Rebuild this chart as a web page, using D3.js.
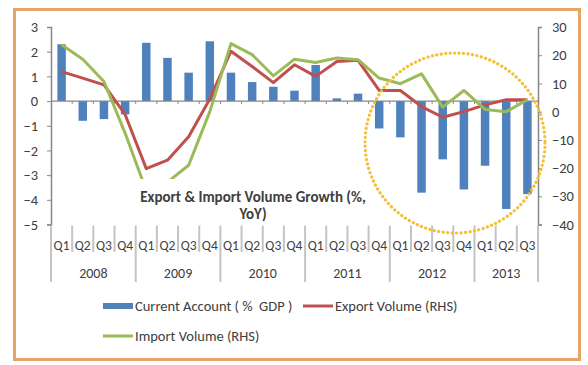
<!DOCTYPE html>
<html>
<head>
<meta charset="utf-8">
<script src="https://cdn.jsdelivr.net/npm/d3@7"></script>
<style>
  html, body { margin: 0; padding: 0; background: #fff; }
  svg { display: block; }
  text { font-family: Carlito, Lato, "Liberation Sans", sans-serif; fill: #404040; white-space: pre; }
</style>
</head>
<body>
<svg id="chart" width="588" height="365"></svg>
<script>
// ---- data ----
const years = ["2008", "2009", "2010", "2011", "2012", "2013"];
const quarters = ["Q1","Q2","Q3","Q4","Q1","Q2","Q3","Q4","Q1","Q2","Q3","Q4","Q1","Q2","Q3","Q4","Q1","Q2","Q3","Q4","Q1","Q2","Q3"];
const categoryYears = ["2008","2008","2008","2008","2009","2009","2009","2009","2010","2010","2010","2010","2011","2011","2011","2011","2012","2012","2012","2012","2013","2013","2013"];
const currentAccount = [2.30, -0.80, -0.73, -0.54, 2.36, 1.75, 1.15, 2.42, 1.15, 0.77, 0.58, 0.42, 1.46, 0.11, 0.30, -1.11, -1.47, -3.71, -2.36, -3.58, -2.62, -4.37, -3.77];
const exportVolume = [14.2, 11.9, 9.5, -1.0, -20.2, -17.2, -8.9, 4.5, 21.4, 16.0, 10.3, 16.6, 12.5, 17.8, 18.2, 7.5, 7.5, 1.8, -2.0, 0.0, 2.4, 4.2, 4.2];
const importVolume = [23.7, 18.6, 10.7, -7.6, -28.0, -25.0, -19.0, 0.0, 24.1, 20.2, 12.7, 18.6, 17.4, 19.0, 18.4, 11.9, 9.9, 13.4, 1.6, 7.5, 0.8, 0.0, 4.2];
const leftTicks = [-5, -4, -3, -2, -1, 0, 1, 2, 3];
const rightTicks = [-40, -30, -20, -10, 0, 10, 20, 30];
const seriesNames = ["Current Account ( %  GDP )", "Export Volume (RHS)", "Import Volume (RHS)"];
const titleLines = ["Export & Import Volume Growth (%,", "YoY)"];

// ---- layout ----
const svg = d3.select("#chart");
const plot = { left: 51, right: 538, top: 27, bottom: 224.5 };
const colors = { bar: "#4f81bd", exp: "#c0504d", imp: "#9bbb59", axis: "#868686", sep: "#c4c4c4" };

const keys = quarters.map((q, i) => categoryYears[i] + "-" + q);
const x = d3.scaleBand().domain(keys).range([plot.left, plot.right]).paddingInner(0.6).paddingOuter(0.3);
const step = x.step();
const cx = k => x(k) + x.bandwidth() / 2;
const yL = d3.scaleLinear().domain([-5, 3]).range([plot.bottom, plot.top]);
const yR = d3.scaleLinear().domain([-40, 30]).range([plot.bottom, plot.top]);

// frame
svg.append("rect").attr("x", 14.5).attr("y", 9.5).attr("width", 565).attr("height", 350)
  .attr("fill", "#fff").attr("stroke", "#e6a468").attr("stroke-width", 3);

// left axis
const gL = svg.append("g").attr("transform", `translate(${plot.left},0)`)
  .call(d3.axisLeft(yL).tickValues(leftTicks).tickSize(4).tickPadding(9).tickFormat(d3.format("d")));
gL.select(".domain").attr("stroke", colors.axis).attr("stroke-width", 1.5);
gL.selectAll(".tick line").attr("stroke", colors.axis);
gL.selectAll(".tick text").style("font-size", "14.5px").attr("fill", "#404040");

// right axis
const gR = svg.append("g").attr("transform", `translate(${plot.right},0)`)
  .call(d3.axisRight(yR).tickValues(rightTicks).tickSize(4).tickPadding(10).tickFormat(d3.format("d")));
gR.select(".domain").attr("stroke", colors.axis).attr("stroke-width", 1.5);
gR.selectAll(".tick line").attr("stroke", colors.axis);
gR.selectAll(".tick text").style("font-size", "14.5px").attr("fill", "#404040");

// bars
svg.append("g").selectAll("rect").data(currentAccount).join("rect")
  .attr("x", (d, i) => x(keys[i]))
  .attr("width", x.bandwidth())
  .attr("y", d => yL(Math.max(0, d)))
  .attr("height", d => Math.abs(yL(d) - yL(0)))
  .attr("fill", colors.bar);

// zero axis line with ticks at category boundaries
const y0 = yL(0);
svg.append("line").attr("x1", plot.left).attr("x2", plot.right).attr("y1", y0).attr("y2", y0)
  .attr("stroke", colors.axis).attr("stroke-width", 1.2);
svg.append("g").selectAll("line").data(d3.range(1, keys.length)).join("line")
  .attr("x1", i => plot.left + i * step).attr("x2", i => plot.left + i * step)
  .attr("y1", y0).attr("y2", y0 + 3).attr("stroke", colors.axis);

// lines
const lineGen = arr => d3.line().x((d, i) => cx(keys[i])).y(d => yR(d))(arr);
svg.append("path").attr("d", lineGen(exportVolume)).attr("fill", "none")
  .attr("stroke", colors.exp).attr("stroke-width", 3).attr("stroke-linejoin", "round");
svg.append("path").attr("d", lineGen(importVolume)).attr("fill", "none")
  .attr("stroke", colors.imp).attr("stroke-width", 3).attr("stroke-linejoin", "round");

// title box (white background hides lines beneath)
svg.append("rect").attr("x", 134).attr("y", 179).attr("width", 238).attr("height", 43).attr("fill", "#fff");
const title = svg.append("text").attr("text-anchor", "middle")
  .style("font-size", "15px").style("font-weight", "bold").attr("fill", "#222");
titleLines.forEach((t, i) => title.append("tspan").attr("x", 253).attr("y", 202 + i * 17).text(t));

// category axis: quarter labels, year labels, separators
const sepTop = plot.bottom + 1;
svg.append("g").selectAll("text").data(quarters).join("text")
  .attr("x", (d, i) => cx(keys[i])).attr("y", 250).attr("text-anchor", "middle")
  .style("font-size", "13.5px").text(d => d);
const boundaries = d3.range(0, keys.length + 1);
svg.append("g").selectAll("line").data(boundaries).join("line")
  .attr("x1", i => plot.left + i * step).attr("x2", i => plot.left + i * step)
  .attr("y1", sepTop)
  .attr("y2", i => (i === 0 || i === keys.length || categoryYears[i] !== categoryYears[i - 1]) ? 282 : 252)
  .attr("stroke", colors.sep).attr("stroke-width", 2);
years.forEach(yr => {
  const idx = categoryYears.map((c, i) => c === yr ? i : -1).filter(i => i >= 0);
  const mid = (x(keys[idx[0]]) + x(keys[idx[idx.length - 1]]) + x.bandwidth()) / 2;
  svg.append("text").attr("x", mid).attr("y", 278).attr("text-anchor", "middle")
    .style("font-size", "14px").text(yr);
});

// dotted highlight circle
svg.append("ellipse").attr("cx", 455).attr("cy", 143).attr("rx", 90).attr("ry", 90)
  .attr("fill", "none").attr("stroke", "#f4bf35").attr("stroke-width", 3.2)
  .attr("stroke-dasharray", "0.1,4.4").attr("stroke-linecap", "round");

// legend
const lg = svg.append("g");
lg.append("rect").attr("x", 103).attr("y", 303).attr("width", 30).attr("height", 6).attr("fill", colors.bar);
lg.append("text").attr("x", 135).attr("y", 311).style("font-size", "14.5px").text(seriesNames[0]);
lg.append("line").attr("x1", 303).attr("x2", 333).attr("y1", 306).attr("y2", 306).attr("stroke", colors.exp).attr("stroke-width", 3);
lg.append("text").attr("x", 335).attr("y", 311).style("font-size", "14.5px").text(seriesNames[1]);
lg.append("line").attr("x1", 103).attr("x2", 133).attr("y1", 336).attr("y2", 336).attr("stroke", colors.imp).attr("stroke-width", 3);
lg.append("text").attr("x", 135).attr("y", 341).style("font-size", "14.5px").text(seriesNames[2]);
</script>
</body>
</html>
